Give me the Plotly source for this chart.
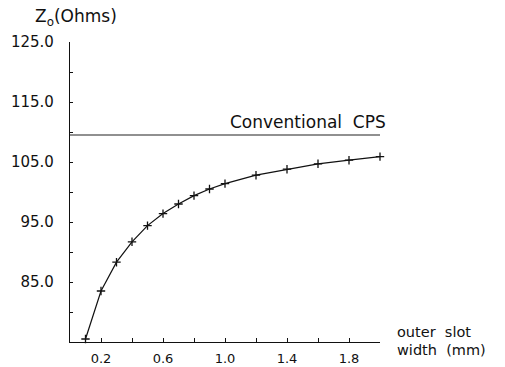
import plotly.graph_objects as go

# Data
slot_width_mm = [0.1, 0.2, 0.3, 0.4, 0.5, 0.6, 0.7, 0.8, 0.9, 1.0, 1.2, 1.4, 1.6, 1.8, 2.0]
z0_ohms = [75.5, 83.5, 88.3, 91.7, 94.4, 96.4, 98.0, 99.4, 100.5, 101.4, 102.8, 103.8, 104.7, 105.3, 105.9]
conventional_x = [0.0, 2.0]
conventional_z0 = [109.5, 109.5]

x_tickvals = [0.2, 0.6, 1.0, 1.4, 1.8]
x_ticktext = ["0.2", "0.6", "1.0", "1.4", "1.8"]
x_minor_tickvals = [0.4, 0.8, 1.2, 1.6, 2.0]
y_tickvals = [85, 95, 105, 115, 125]
y_ticktext = ["85.0", "95.0", "105.0", "115.0", "125.0"]
y_minor_tickvals = [80, 90, 100, 110, 120]
x_title_lines = ["outer\u00a0\u00a0slot", "width\u00a0\u00a0(mm)"]

FONT = "DejaVu Sans"

fig = go.Figure()
fig.add_trace(go.Scatter(
    x=conventional_x, y=conventional_z0, mode="lines",
    line=dict(color="#222", width=1.2), showlegend=False, hoverinfo="skip"))
fig.add_trace(go.Scatter(
    x=slot_width_mm, y=z0_ohms, mode="lines+markers",
    line=dict(color="#111", width=1.2),
    marker=dict(symbol="cross-thin", size=6, line=dict(color="#111", width=1.3)),
    cliponaxis=False, showlegend=False))

fig.add_annotation(x=1.02, y=111.7, xref="x", yref="y", text="Conventional\u00a0\u00a0CPS",
                   showarrow=False, xanchor="left", yanchor="middle",
                   font=dict(family=FONT, size=17, color="#111"))
fig.add_annotation(x=-0.119, y=1.08, xref="paper", yref="paper",
                   text="Z<sub>o</sub>(Ohms)", showarrow=False,
                   xanchor="left", yanchor="middle",
                   font=dict(family=FONT, size=17, color="#111"))
for line_text, py in zip(x_title_lines, [0.0333, -0.0267]):
    fig.add_annotation(x=1.048, y=py, xref="paper", yref="paper",
                       text=line_text, showarrow=False,
                       xanchor="left", yanchor="middle", align="left",
                       font=dict(family=FONT, size=14.5, color="#111"))

fig.update_xaxes(range=[0, 2.0], showline=True, linecolor="#111", linewidth=1.2,
                 showgrid=False, zeroline=False, tickmode="array", automargin=False,
                 tickvals=x_tickvals, ticktext=x_ticktext,
                 ticks="inside", ticklen=4, tickcolor="#111", tickwidth=1,
                 minor=dict(tickmode="array", tickvals=x_minor_tickvals, ticks="inside",
                            ticklen=4, tickcolor="#111", tickwidth=1, showgrid=False),
                 ticklabelstandoff=4,
                 tickfont=dict(family=FONT, size=13, color="#111"))
fig.update_yaxes(range=[75, 125], showline=True, linecolor="#111", linewidth=1.2,
                 showgrid=False, zeroline=False, tickmode="array", automargin=False,
                 tickvals=y_tickvals, ticktext=y_ticktext,
                 ticks="inside", ticklen=3, tickcolor="#111", tickwidth=1,
                 minor=dict(tickmode="array", tickvals=y_minor_tickvals, ticks="inside",
                            ticklen=3, tickcolor="#111", tickwidth=1, showgrid=False),
                 ticklabelstandoff=12,
                 tickfont=dict(family=FONT, size=15, color="#111"))

fig.update_layout(width=505, height=367, margin=dict(l=70, r=125, t=42, b=25, autoexpand=False),
                  paper_bgcolor="white", plot_bgcolor="white")

fig.write_html("out.html")
